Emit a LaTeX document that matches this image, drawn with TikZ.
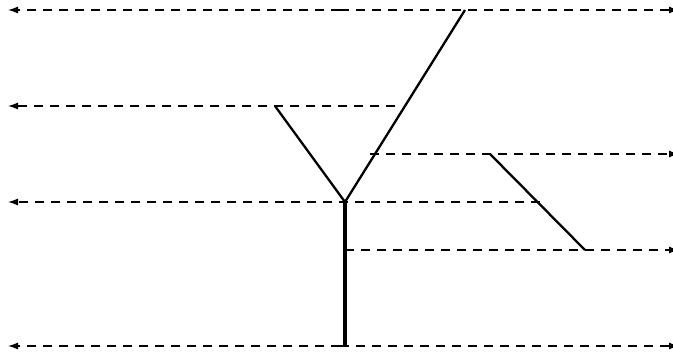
\documentclass[tikz,border=0pt]{standalone}
\usetikzlibrary{arrows.meta}
\begin{document}
\begin{tikzpicture}[x=1pt,y=-1pt,
  dashline/.style={line width=1.3pt,dash pattern=on 9pt off 7pt},
  leftarr/.style={dashline,-{Latex[length=10pt,width=7pt]}},
  rightarr/.style={dashline,-{Latex[length=10pt,width=7pt]}},
  branch/.style={line width=2.3pt},
  trunk/.style={line width=3.8pt}]
\useasboundingbox (0,0) rectangle (673,353);
\clip (0,0) rectangle (673,353);
% coordinates
\coordinate (L1) at (8,10);   \coordinate (R1) at (679,10);
\coordinate (L2) at (8,106);  \coordinate (S2) at (395,106);
\coordinate (S3) at (370,154); \coordinate (R3) at (679,154);
\coordinate (L4) at (8,202);  \coordinate (S4) at (540,202);
\coordinate (S5) at (345,250); \coordinate (R5) at (679,250);
\coordinate (L6) at (8,346);  \coordinate (R6) at (679,346);
\coordinate (M1) at (340,10);
\coordinate (M6) at (340,346);
\coordinate (J) at (345,202);
\coordinate (T) at (465,10);
\coordinate (B) at (275,106);
\coordinate (Bot) at (345,346);
\coordinate (P) at (490,154);
\coordinate (Q) at (585,250);
% dashed lines
\draw[leftarr] (M1) -- (L1);
\draw[rightarr] (M1) -- (R1);
\draw[leftarr] (S2) -- (L2);
\draw[rightarr] (S3) -- (R3);
\draw[leftarr] (S4) -- (L4);
\draw[rightarr] (S5) -- (R5);
\draw[leftarr] (M6) -- (L6);
\draw[rightarr] (M6) -- (R6);
% solid lines
\draw[branch] (J) -- (T);
\draw[branch] (J) -- (B);
\draw[trunk] (J) -- (Bot);
\draw[branch] (P) -- (Q);
\end{tikzpicture}
\end{document}
